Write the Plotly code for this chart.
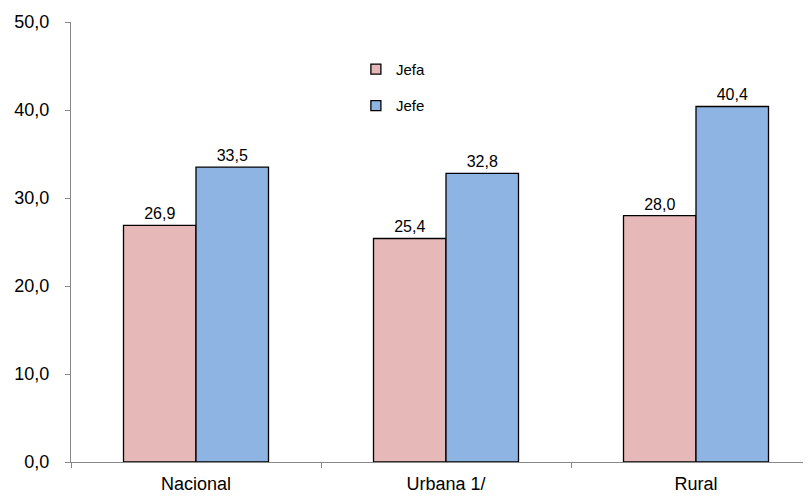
import plotly.graph_objects as go

categories = ["Nacional", "Urbana 1/", "Rural"]
jefa = [26.9, 25.4, 28.0]
jefe = [33.5, 32.8, 40.4]
y_ticks = [0, 10, 20, 30, 40, 50]

FONT = "Liberation Sans, Arial, sans-serif"
PINK = "#E6B9B8"
BLUE = "#8EB4E3"

fig = go.Figure()
for name, vals, col, grp in [("Jefa", jefa, PINK, "a"), ("Jefe", jefe, BLUE, "b")]:
    fig.add_trace(go.Bar(
        name=name, x=categories, y=vals,
        marker=dict(color=col, line=dict(color="#000000", width=1.3)),
        texttemplate="%{y:.1f}", textposition="outside", cliponaxis=False,
        textfont=dict(family=FONT, size=16, color="#000"),
        showlegend=False,
    ))
    fig.add_trace(go.Scatter(
        name=name, x=[None], y=[None], mode="markers",
        marker=dict(symbol="square", size=10, color=col,
                    line=dict(color="#000000", width=1.3)),
        legendgroup=grp, showlegend=True,
    ))

# page body has an 8px margin, so the figure is sized to fill the rest
fig.update_layout(
    width=803, height=491,
    margin=dict(l=63, r=0, t=14, b=37),
    plot_bgcolor="white", paper_bgcolor="white",
    separators=",.",
    barmode="group", bargap=0.42, bargroupgap=0,
    font=dict(family=FONT, size=18, color="#000"),
    showlegend=True,
    legend=dict(x=0.385, y=0.93, xanchor="left", yanchor="top",
                font=dict(family=FONT, size=15, color="#000"),
                bgcolor="rgba(0,0,0,0)", traceorder="grouped",
                tracegroupgap=14, itemwidth=30),
    xaxis=dict(
        range=[-0.5, 2.46], showline=True, linecolor="#888888", linewidth=1,
        ticks="outside", tickson="boundaries", ticklen=5, tickcolor="#888888",
        ticklabelstandoff=5,
        showgrid=False, automargin=False, tickfont=dict(family=FONT, size=18),
    ),
    yaxis=dict(
        range=[0, 50], tickvals=y_ticks, tickformat=".1f",
        showline=True, linecolor="#888888", linewidth=1,
        ticks="outside", ticklen=5, tickcolor="#888888",
        ticklabelstandoff=12,
        showgrid=False, zeroline=False, automargin=False,
        tickfont=dict(family=FONT, size=18),
    ),
)

fig.write_html("out.html")
